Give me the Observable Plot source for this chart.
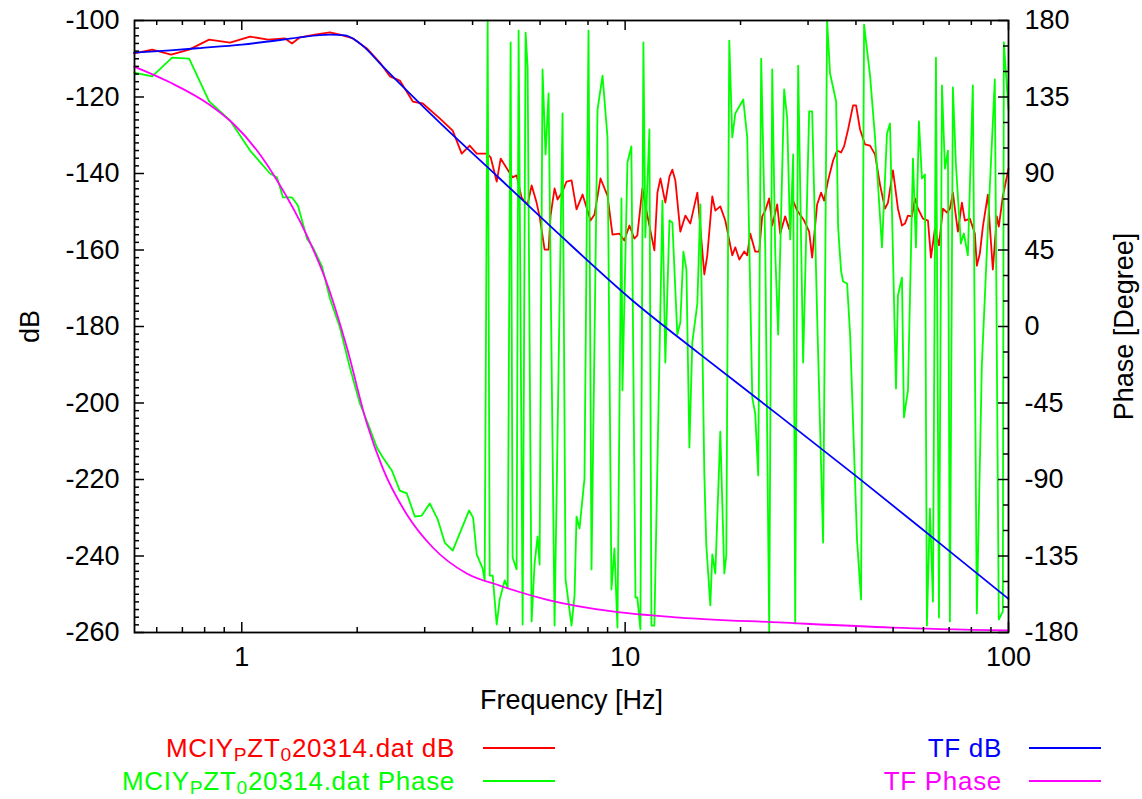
<!DOCTYPE html>
<html><head><meta charset="utf-8">
<script src="https://cdn.jsdelivr.net/npm/d3@7"></script>
<script src="https://cdn.jsdelivr.net/npm/@observablehq/plot@0.6"></script>
<style>
body{margin:0;background:#fff;font-family:"Liberation Sans",Arial,Helvetica,sans-serif;}
#wrap{position:relative;width:1142px;height:799px;background:#fff;}
#legend{position:absolute;left:0;top:720px;width:1142px;height:79px;font-size:26px;}
.lt{position:absolute;white-space:nowrap;line-height:1;transform:translateY(-50%);letter-spacing:0.7px;}
.ls{position:absolute;height:1.8px;}
sub{font-size:0.74em;vertical-align:baseline;position:relative;top:0.2em;line-height:0;}
</style></head>
<body><div id="wrap"><div id="chart"></div><div id="legend"></div></div>
<script>
// ---------- data ----------
// measured magnitude (MCIY_PZT_0 20314.dat dB)
const measFreq = [0.524,0.584,0.654,0.729,0.822,0.932,1.051,1.171,1.297,1.352,1.418,1.552,1.698,1.803,1.949,2.120,2.292,2.433,2.584,2.793,2.966,3.284,3.550,3.747,3.931,4.101,4.353,4.460,4.623,4.735,4.938,5.087,5.211,5.370,5.567,5.702,5.875,5.982,6.165,6.314,6.390,6.545,6.664,6.867,7.033,7.248,7.468,7.744,8.124,8.321,8.625,8.995,9.267,9.659,9.95,10.26,10.57,10.76,11.09,11.43,11.92,12.14,12.36,12.73,13.05,13.28,13.52,13.93,14.36,14.79,15.43,16.09,16.38,16.88,17.19,17.71,18.25,19.03,19.38,19.85,20.45,20.82,21.20,21.84,22.37,22.78,23.20,23.76,24.19,24.93,25.38,26.15,26.79,27.27,28.10,29.30,30.20,30.75,31.68,32.45,33.04,33.84,34.87,35.72,36.59,37.25,38.15,39.31,40.03,41.00,42.25,43.54,44.86,46.22,47.63,48.49,49.96,51.48,52.73,53.69,54.67,56.00,57.02,58.05,59.82,61.64,62.77,64.29,65.85,67.45,69.08,70.33,71.61,72.48,73.79,75.58,76.95,79.29,81.70,82.68,84.19,85.74,88.34,89.41,91.03,93.23,94.34,96.65,100];
const measDb = [-108.6,-107.6,-108.9,-107.6,-105.0,-105.8,-104.2,-105.0,-104.7,-106.0,-104.4,-103.7,-103.1,-103.7,-104.7,-107.3,-111.0,-114.6,-115.7,-121.2,-121.7,-125.6,-128.8,-134.8,-132.7,-134.8,-134.8,-135.8,-142.1,-136.1,-139.0,-141.0,-140.5,-146.3,-148.1,-143.1,-147.6,-151.2,-159.9,-159.9,-151.0,-143.9,-146.8,-144.7,-142.1,-141.8,-149.4,-145.5,-152.3,-150.7,-141.3,-145.8,-156.0,-155.7,-157.5,-153.6,-157.0,-156.2,-143.9,-151.0,-160.1,-145.0,-141.3,-147.6,-140.8,-139.0,-141.8,-155.2,-151.0,-153.1,-145.0,-166.4,-161.4,-146.0,-149.7,-148.6,-152.3,-161.4,-159.3,-162.5,-160.4,-161.4,-155.7,-160.4,-160.4,-151.2,-149.7,-146.5,-153.6,-148.1,-155.7,-151.2,-154.6,-146.5,-149.7,-152.3,-155.2,-162.0,-148.1,-145.0,-147.1,-141.8,-136.6,-134.0,-134.5,-132.9,-128.5,-122.2,-122.2,-128.5,-132.4,-132.7,-135.0,-142.9,-149.2,-147.6,-139.2,-149.2,-153.6,-153.1,-151.0,-151.2,-146.5,-149.2,-151.8,-152.3,-162.0,-154.4,-158.8,-149.2,-150.2,-149.2,-145.0,-149.2,-155.2,-147.6,-152.3,-151.8,-155.7,-164.1,-160.9,-153.9,-145.5,-153.9,-165.1,-151.2,-153.9,-146.0,-138.7];

// measured phase (MCIY_PZT_0 20314.dat Phase), degrees
const phaseFreq = [0.524,0.584,0.658,0.729,0.822,0.932,1.051,1.185,1.236,1.281,1.352,1.401,1.479,1.533,1.619,1.698,1.803,1.914,2.033,2.133,2.251,2.333,2.463,2.584,2.695,2.827,2.948,3.093,3.245,3.384,3.550,3.918,4.013,4.101,4.250,4.301,4.379,4.433,4.513,4.623,4.707,4.850,4.938,5.027,5.087,5.211,5.274,5.403,5.500,5.567,5.702,5.805,5.910,5.982,6.089,6.200,6.314,6.545,6.867,6.991,7.248,7.379,7.468,7.603,7.834,8.025,8.171,8.472,8.730,8.995,9.211,9.378,9.548,9.781,9.840,10.14,10.38,10.64,10.76,10.96,11.16,11.29,11.57,11.71,11.92,12.51,12.73,13.05,13.28,13.68,13.93,14.19,14.45,14.71,14.97,15.43,15.71,16.09,16.28,16.68,16.88,17.19,17.71,18.14,18.36,18.69,19.03,19.38,20.33,20.82,21.46,21.84,22.24,22.64,23.20,23.76,24.19,24.63,25.07,25.99,26.46,26.95,27.44,27.77,28.27,29.13,30.20,30.75,31.68,32.84,33.64,34.24,35.51,35.94,36.59,37.03,37.93,38.62,40.27,41.25,42.00,43.54,44.86,46.77,48.20,49.08,50.88,51.48,52.73,53.37,54.67,56.34,57.36,58.40,59.46,60.53,61.26,62.38,63.52,64.68,65.85,67.06,68.27,69.51,70.33,71.61,72.91,75.12,76.48,78.34,80.72,82.68,85.21,88.34,92.11,94.34,96.65,97.23,100];
const phaseDeg = [149.4,147.1,158.2,157.6,132.4,121.2,103.5,90.0,87.6,75.9,75.9,71.2,51.8,46.5,35.3,16.5,-0.6,-24.1,-45.3,-57.1,-71.2,-77.1,-84.7,-96.5,-98.2,-111.8,-111.2,-104.1,-113.5,-127.1,-131.8,-108.2,-112.4,-134.1,-142.4,-149.4,180,-146.5,-146.5,-175.3,-160.6,-149.4,-153.5,167.1,-135.9,-142.9,174.1,-175.3,172.9,152.4,-173.5,-139.4,-123.5,-140.0,151.2,101.2,137.1,-175.9,125.3,-148.8,-175.9,-158.2,-111.8,-118.8,-89.4,174.1,-142.9,127.6,147.6,111.2,-154.7,-130.6,-177.1,75.3,-37.6,96.5,105.9,-159.4,-159.4,-178.2,167.1,52.4,115.9,-175.9,-175.9,74.1,-21.2,62.4,61.2,-4.7,2.4,44.1,33.5,-71.2,-9.4,13.5,71.8,-86.5,-128.2,-164.1,-134.1,-145.3,-61.8,-145.3,-134.7,168.2,111.2,125.3,133.5,111.2,-41.8,-51.2,-87.6,157.6,46.5,-180,151.2,44.1,-4.7,139.4,122.9,51.2,101.2,-174.7,153.5,-21.2,126.5,126.5,7.1,-127.1,180,148.8,132.4,58.2,32.4,26.5,25.3,-4.7,-125.9,-160.6,177.6,147.6,111.2,46.5,113.5,119.4,-36.5,18.2,28.8,-53.5,-37.6,98.8,46.5,120.6,87.1,89.4,-175.9,-107.1,-161.8,158.2,-171.2,141.8,92.9,103.5,-173.5,140.6,95.3,48.8,54.7,41.8,141.8,-168.8,-22.4,57.1,145.3,-172.4,-167.6,167.1,127.6];

// model transfer function (TF dB, TF Phase)
const tfFreq = [0.524,0.651,0.779,1.0,1.258,1.418,1.698,1.858,1.949,2.095,2.292,2.584,3.284,4.707,6.745,10.45,15.61,25.22,40.74,65.84,100];
const tfDb = [-108.4,-107.8,-107.2,-106.3,-105.1,-104.4,-103.7,-103.9,-104.7,-107.1,-111.2,-116.5,-126.7,-141.3,-156.0,-173.2,-187.1,-203.3,-219.7,-236.5,-251.2];
const tfPhaseFreq = [0.524,0.651,0.822,0.949,1.096,1.236,1.479,1.668,1.880,2.120,2.333,2.695,3.149,3.862,4.707,6.237,9.266,13.85,25.22,49.67,100];
const tfPhase = [152.9,143.5,130.6,119.4,103.5,85.9,53.5,25.3,-12.4,-57.1,-83.5,-110.6,-130.0,-145.3,-152.4,-160.6,-167.6,-171.2,-174.1,-177.1,-178.8];

// ticks
const xLabelTicks = [1, 10, 100];
const xMinorTicks = [0.6,0.7,0.8,0.9,2,3,4,5,6,7,8,9,20,30,40,50,60,70,80,90];
const dbTicks = [-260,-240,-220,-200,-180,-160,-140,-120,-100];
const dbMinorTicks = d3.range(-258, -100, 2).filter(v => v % 20 !== 0);
const phaseTicks = [-180,-135,-90,-45,0,45,90,135,180];
const phaseMinorTicks = d3.range(-165, 180, 15).filter(v => v % 45 !== 0);

const seriesLabels = ["MCIY<sub>P</sub>ZT<sub>0</sub>20314.dat dB", "MCIY<sub>P</sub>ZT<sub>0</sub>20314.dat Phase", "TF dB", "TF Phase"];
const seriesColors = ["#ff0000", "#00ff00", "#0000ff", "#ff00ff"];

// ---------- build ----------
// secondary (phase) axis: -180..180 degrees shares the frame with -260..-100 dB
const phaseToDb = p => -260 + (p + 180) * 160 / 360;
const dbToPhase = d => (d + 260) * 360 / 160 - 180;

const meas = measFreq.map((f, i) => ({f, v: measDb[i]}));
const measPh = phaseFreq.map((f, i) => ({f, v: phaseDeg[i]}));
const tf = tfFreq.map((f, i) => ({f, v: tfDb[i]}));
const tfPh = tfPhaseFreq.map((f, i) => ({f, v: tfPhase[i]}));

const W = 1142, H = 720, mL = 134, mR = 134, mT = 20, mB = 88;
const plotW = W - mL - mR, plotH = H - mT - mB;
const FS = 27, MAJ = 10, MIN = 5, LW = 1.8;
const font = '"Liberation Sans", Arial, Helvetica, sans-serif';

const chart = Plot.plot({
  width: W, height: H,
  marginLeft: mL, marginRight: mR, marginTop: mT, marginBottom: mB,
  style: {fontFamily: font, fontSize: FS + "px", color: "black", background: "white", overflow: "visible"},
  x: {type: "log", domain: [0.525, 100]},
  y: {domain: [-260, -100]},
  marks: [
    Plot.line(meas, {x: "f", y: "v", stroke: seriesColors[0], strokeWidth: LW}),
    Plot.line(measPh, {x: "f", y: d => phaseToDb(d.v), stroke: seriesColors[1], strokeWidth: LW}),
    Plot.line(tf, {x: "f", y: "v", stroke: seriesColors[2], strokeWidth: LW, curve: "monotone-x"}),
    Plot.line(tfPh, {x: "f", y: d => phaseToDb(d.v), stroke: seriesColors[3], strokeWidth: LW, curve: "monotone-x"}),
    Plot.frame({stroke: "black", strokeWidth: 1.8}),
    // inward ticks: bottom & top
    Plot.tickX(xLabelTicks, {x: d => d, insetTop: plotH - MAJ, stroke: "black", strokeWidth: 1.5}),
    Plot.tickX(xLabelTicks, {x: d => d, insetBottom: plotH - MAJ, stroke: "black", strokeWidth: 1.5}),
    Plot.tickX(xMinorTicks, {x: d => d, insetTop: plotH - MIN, stroke: "black", strokeWidth: 1.5}),
    Plot.tickX(xMinorTicks, {x: d => d, insetBottom: plotH - MIN, stroke: "black", strokeWidth: 1.5}),
    // left ticks (dB)
    Plot.tickY(dbTicks, {y: d => d, insetRight: plotW - MAJ, stroke: "black", strokeWidth: 1.5}),
    Plot.tickY(dbMinorTicks, {y: d => d, insetRight: plotW - MIN, stroke: "black", strokeWidth: 1.5}),
    // right ticks (phase)
    Plot.tickY(phaseTicks, {y: d => phaseToDb(d), insetLeft: plotW - MAJ, stroke: "black", strokeWidth: 1.5}),
    Plot.tickY(phaseMinorTicks, {y: d => phaseToDb(d), insetLeft: plotW - MIN, stroke: "black", strokeWidth: 1.5}),
    // tick labels
    Plot.axisX({ticks: xLabelTicks, tickFormat: d => String(d), tickSize: 0, tickPadding: 14, label: null, fontSize: FS}),
    Plot.axisY({ticks: dbTicks, tickFormat: d => String(d), tickSize: 0, tickPadding: 15, label: null, fontSize: FS}),
    Plot.axisY({anchor: "right", ticks: phaseTicks.map(phaseToDb), tickFormat: d => String(Math.round(dbToPhase(d))), tickSize: 0, tickPadding: 16, label: null, fontSize: FS}),
    // axis titles
    Plot.text(["Frequency [Hz]"], {frameAnchor: "bottom", dy: 76, textAnchor: "middle", fontSize: FS, fill: "black"}),
    Plot.text(["dB"], {frameAnchor: "left", dx: -104, textAnchor: "middle", rotate: -90, fontSize: FS, fill: "black"}),
    Plot.text(["Phase [Degree]"], {frameAnchor: "right", dx: 116, textAnchor: "middle", rotate: -90, fontSize: FS, fill: "black"})
  ]
});
document.getElementById("chart").appendChild(chart);

// legend (below the SVG)
const legend = document.getElementById("legend");
const items = [
  {label: seriesLabels[0], color: seriesColors[0], textRight: 455, lineX: 483, lineW: 72, y: 28},
  {label: seriesLabels[1], color: seriesColors[1], textRight: 455, lineX: 483, lineW: 72, y: 61},
  {label: seriesLabels[2], color: seriesColors[2], textRight: 1002, lineX: 1029, lineW: 72, y: 28},
  {label: seriesLabels[3], color: seriesColors[3], textRight: 1002, lineX: 1029, lineW: 72, y: 61}
];
for (const it of items) {
  const t = document.createElement("div");
  t.className = "lt";
  t.style.right = (W - it.textRight) + "px";
  t.style.top = it.y + "px";
  t.style.color = it.color;
  t.innerHTML = it.label;
  legend.appendChild(t);
  const l = document.createElement("div");
  l.className = "ls";
  l.style.left = it.lineX + "px";
  l.style.width = it.lineW + "px";
  l.style.top = (it.y - 0.9) + "px";
  l.style.background = it.color;
  legend.appendChild(l);
}
</script>
</body></html>
